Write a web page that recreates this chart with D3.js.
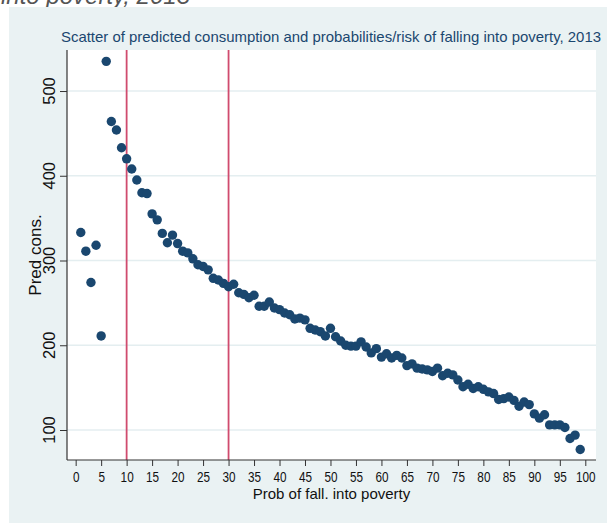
<!DOCTYPE html>
<html>
<head>
<meta charset="utf-8">
<script src="https://cdn.jsdelivr.net/npm/d3@7"></script>
<style>
  body { margin: 0; background: #fff; }
  svg { display: block; font-family: "Liberation Sans", Arial, sans-serif; }
</style>
</head>
<body>
<svg id="svg" width="607" height="523"></svg>
<script>
// risk of falling into poverty (%) and predicted consumption
var prob = [1,2,3,4,5,6,7,8,9,10,11,12,13,14,15,16,17,18,19,20,
  21,22,23,24,25,26,27,28,29,30,31,32,33,34,35,36,37,38,39,40,
  41,42,43,44,45,46,47,48,49,50,51,52,53,54,55,56,57,58,59,60,
  61,62,63,64,65,66,67,68,69,70,71,72,73,74,75,76,77,78,79,80,
  81,82,83,84,85,86,87,88,89,90,91,92,93,94,95,96,97,98,99];
var predCons = [333,311,274,318,211,535,464,454,433,420,408,395,380,379,355,348,332,321,330,320,
  311,309,302,295,293,289,279,277,273,269,272,262,260,256,259,246,246,251,244,242,
  238,236,231,232,230,220,218,216,211,220,210,205,200,199,199,204,198,191,196,186,
  190,185,188,185,176,178,173,172,171,169,173,164,167,165,159,151,154,149,151,148,
  145,143,136,137,139,135,128,133,130,119,114,118,106,106,106,103,90,94,77];
var cutoffs = [10, 30];
var xTicks = d3.range(0, 101, 5);
var yTicks = [100, 200, 300, 400, 500];

var data = prob.map(function(p, i){ return {p: p, c: predCons[i]}; });

var svg = d3.select('#svg');

// cut-off caption from the page above the figure
svg.append('text')
    .attr('x', 190).attr('y', 4)
    .attr('text-anchor', 'end')
    .attr('font-size', 24)
    .attr('font-style', 'italic')
    .attr('fill', '#555')
    .text('into poverty, 2013');

svg.append('rect')
    .attr('x', 9).attr('y', 7)
    .attr('width', 598).attr('height', 516)
    .attr('fill', '#eaf2f3');

var padding = {top: 50, right: 11, bottom: 63, left: 67};
var chartArea = {
    width: 607 - padding.left - padding.right,
    height: 523 - padding.top - padding.bottom
};

var xScale = d3.scaleLinear().domain([-1.7, 102.1]).range([0, chartArea.width]);
var yScale = d3.scaleLinear().domain([64.6, 548.4]).range([chartArea.height, 0]);

var g = svg.append('g')
    .attr('transform', 'translate(' + padding.left + ',' + padding.top + ')');

g.append('rect')
    .attr('width', chartArea.width)
    .attr('height', chartArea.height)
    .attr('fill', '#fff');

// gridlines
g.selectAll('.grid').data(yTicks).enter()
    .append('line')
    .attr('x1', 0).attr('x2', chartArea.width)
    .attr('y1', function(d){ return yScale(d); })
    .attr('y2', function(d){ return yScale(d); })
    .attr('stroke', '#e4eef0')
    .attr('stroke-width', 1.6);

// cut-off lines
g.selectAll('.cut').data(cutoffs).enter()
    .append('line')
    .attr('x1', function(d){ return xScale(d); })
    .attr('x2', function(d){ return xScale(d); })
    .attr('y1', 0).attr('y2', chartArea.height)
    .attr('stroke', '#d04b6e')
    .attr('stroke-width', 1.8);

g.selectAll('circle').data(data).enter()
    .append('circle')
    .attr('cx', function(d){ return xScale(d.p); })
    .attr('cy', function(d){ return yScale(d.c); })
    .attr('r', 4.7)
    .attr('fill', '#1a476f');

var xAxis = g.append('g')
    .attr('transform', 'translate(0,' + chartArea.height + ')')
    .call(d3.axisBottom(xScale).tickValues(xTicks).tickSize(6).tickPadding(6).tickSizeOuter(0));

var yAxis = g.append('g')
    .call(d3.axisLeft(yScale).tickValues(yTicks).tickSize(7).tickSizeOuter(0).tickFormat(''));

[xAxis, yAxis].forEach(function(a){
    a.select('.domain').attr('stroke', '#333').attr('stroke-width', 1.2);
    a.selectAll('.tick line').attr('stroke', '#333');
});
xAxis.select('.domain').attr('d', 'M0,0H' + chartArea.width);
yAxis.select('.domain').attr('d', 'M0,0V' + chartArea.height);
xAxis.selectAll('.tick text')
    .attr('font-size', 14)
    .attr('fill', '#111')
    .attr('transform', 'scale(0.84,1)')
    .attr('font-family', '"Liberation Sans", Arial, sans-serif');

// rotated y tick labels
yAxis.selectAll('.ylab').data(yTicks).enter()
    .append('text')
    .attr('transform', function(d){ return 'translate(-12,' + yScale(d) + ') rotate(-90)'; })
    .attr('text-anchor', 'middle')
    .attr('font-size', 16.5)
    .attr('fill', '#111')
    .text(function(d){ return d; });

g.append('text')
    .attr('x', chartArea.width / 2)
    .attr('y', chartArea.height + 39)
    .attr('text-anchor', 'middle')
    .attr('font-size', 15)
    .attr('fill', '#111')
    .text('Prob of fall. into poverty');

g.append('text')
    .attr('transform', 'translate(-26,' + chartArea.height / 2 + ') rotate(-90)')
    .attr('text-anchor', 'middle')
    .attr('font-size', 17)
    .attr('fill', '#111')
    .text('Pred cons.');

svg.append('text')
    .attr('x', 331).attr('y', 42)
    .attr('text-anchor', 'middle')
    .attr('font-size', 14.8)
    .attr('textLength', 540)
    .attr('lengthAdjust', 'spacingAndGlyphs')
    .attr('fill', '#1a476f')
    .text('Scatter of predicted consumption and probabilities/risk of falling into poverty, 2013');
</script>
</body>
</html>
